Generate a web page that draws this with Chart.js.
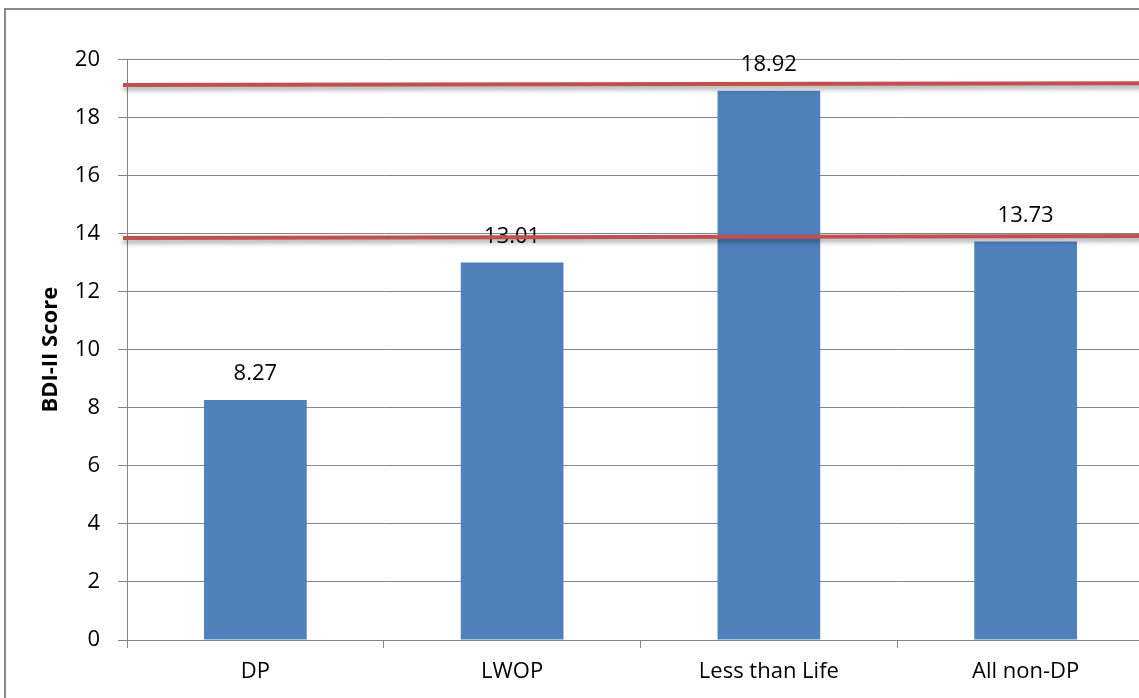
<!DOCTYPE html>
<html>
<head>
<meta charset="utf-8">
<script src="https://cdn.jsdelivr.net/npm/chart.js@4/dist/chart.umd.min.js"></script>
<style>
  html, body { margin: 0; padding: 0; background: #fff; overflow: hidden; }
  body { width: 1139px; height: 698px; position: relative; }
  #frame { position: absolute; left: 4px; top: 8px; width: 1400px; height: 1000px;
           border: 2px solid #8a8a8a; box-sizing: border-box; pointer-events: none; }
  #wrap { position: absolute; left: 0; top: 0; width: 1160px; height: 698px; }
</style>
</head>
<body>
<div id="frame"></div>
<div id="wrap"><canvas id="c" width="1160" height="698"></canvas></div>
<script>
// Mean BDI-II score per sentence group
const categories = ['DP', 'LWOP', 'Less than Life', 'All non-DP'];
const scores = [8.27, 13.01, 18.92, 13.73];
const yTicks = [0, 2, 4, 6, 8, 10, 12, 14, 16, 18, 20];

// Reference lines: value at the left end and at the right end of each line
const refLineStart = [19.12, 13.85];
const refLineEnd = [19.18, 13.92];

const FONT = '"Open Sans", "Liberation Sans", sans-serif';

const valueLabels = {
  id: 'valueLabels',
  afterDatasetsDraw(chart) {
    const ctx = chart.ctx;
    const meta = chart.getDatasetMeta(0);
    ctx.save();
    ctx.font = '22px ' + FONT;
    ctx.fillStyle = '#000';
    ctx.textAlign = 'center';
    ctx.textBaseline = 'middle';
    meta.data.forEach((bar, i) => {
      ctx.fillText(scores[i].toFixed(2), bar.x, bar.y - 26);
    });
    ctx.restore();
  }
};

const refLines = {
  id: 'refLines',
  afterDraw(chart) {
    const ctx = chart.ctx;
    const y = chart.scales.y;
    const x0 = chart.chartArea.left - 4;
    const x1 = chart.width;
    ctx.save();
    ctx.strokeStyle = '#C0504D';
    ctx.lineWidth = 4;
    ctx.lineCap = 'butt';
    ctx.shadowColor = 'rgba(0,0,0,0.4)';
    ctx.shadowBlur = 5;
    ctx.shadowOffsetY = 3;
    refLineStart.forEach((v, i) => {
      ctx.beginPath();
      ctx.moveTo(x0, y.getPixelForValue(v));
      ctx.lineTo(x1, y.getPixelForValue(refLineEnd[i]));
      ctx.stroke();
    });
    ctx.restore();
  }
};

new Chart(document.getElementById('c'), {
  type: 'bar',
  data: {
    labels: categories,
    datasets: [{
      data: scores,
      backgroundColor: '#4F81BD',
      borderWidth: 0,
      categoryPercentage: 1.0,
      barPercentage: 0.4
    }]
  },
  options: {
    responsive: false,
    animation: false,
    devicePixelRatio: 1,
    layout: { padding: { top: 59.5, right: 6, bottom: 0, left: 0 } },
    plugins: { legend: { display: false }, tooltip: { enabled: false } },
    scales: {
      x: {
        afterFit(scale) { scale.height = 58; },
        grid: { drawOnChartArea: false, drawTicks: true, tickLength: 8, color: '#868686', offset: true },
        border: { display: true, color: '#868686', width: 1 },
        ticks: { color: '#000', font: { family: FONT, size: 22 }, padding: 11 }
      },
      y: {
        min: 0, max: 20,
        afterFit(scale) { scale.width = 127; },
        afterBuildTicks(scale) { scale.ticks = yTicks.map(v => ({ value: v })); },
        grid: { color: '#868686', lineWidth: 1, drawTicks: true, tickLength: 9 },
        border: { display: true, color: '#868686', width: 1 },
        ticks: { color: '#000', font: { family: FONT, size: 22 }, padding: 18 },
        title: {
          display: true,
          text: 'BDI-II Score',
          color: '#000',
          font: { family: FONT, size: 22, weight: 'bold' },
          padding: { top: 38, bottom: 0 }
        }
      }
    }
  },
  plugins: [valueLabels, refLines]
});
</script>
</body>
</html>
